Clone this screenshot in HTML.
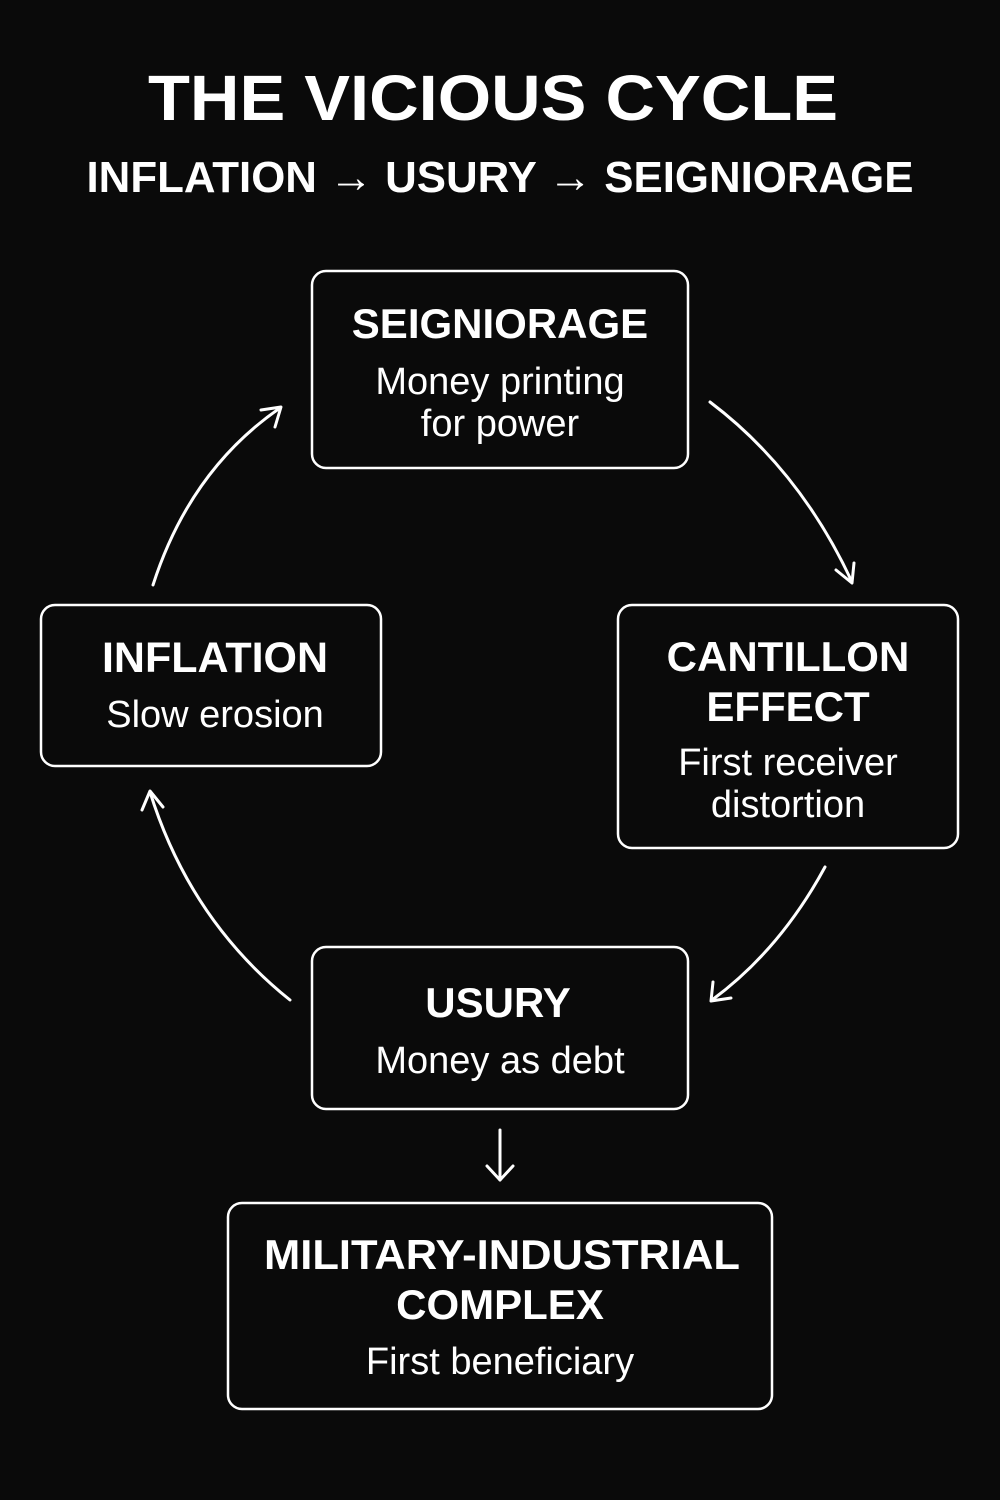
<!DOCTYPE html>
<html><head><meta charset="utf-8"><style>
html,body{margin:0;padding:0;background:#0a0a0a;}
svg{display:block;}
text{font-family:"Liberation Sans",sans-serif;fill:#fff;text-anchor:middle;}
.b{font-weight:bold;}
</style></head><body>
<svg width="1000" height="1500" viewBox="0 0 1000 1500">
<rect width="1000" height="1500" fill="#0a0a0a"/>
<text class="b" x="493" y="120" font-size="64" textLength="690" lengthAdjust="spacingAndGlyphs">THE VICIOUS CYCLE</text>
<text class="b" x="500" y="192" font-size="44" textLength="827" lengthAdjust="spacingAndGlyphs">INFLATION → USURY → SEIGNIORAGE</text>
<g fill="none" stroke="#fff" stroke-width="2.5">
<rect x="312" y="271" width="376" height="197" rx="14"/>
<rect x="41" y="605" width="340" height="161" rx="14"/>
<rect x="618" y="605" width="340" height="243" rx="14"/>
<rect x="312" y="947" width="376" height="162" rx="14"/>
<rect x="228" y="1203" width="544" height="206" rx="14"/>
</g>
<g fill="none" stroke="#fff" stroke-width="3" stroke-linecap="round" stroke-linejoin="round">
<path d="M710 402 Q800 470 852 582"/><path d="M836 570 L852 583 L854 563"/>
<path d="M825 867 Q780 950 712 1000"/><path d="M713 982 L711 1001 L731 998"/>
<path d="M290 1000 Q190 920 150 792"/><path d="M142 810 L150 791 L163 807"/>
<path d="M153 585 Q190 470 280 408"/><path d="M261 410 L281 407 L275 427"/>
<path d="M500 1130 L500 1180"/><path d="M487 1166 L500 1180 L513 1166"/>
</g>
<text class="b" x="500" y="338" font-size="42">SEIGNIORAGE</text>
<text x="500" y="394" font-size="38">Money printing</text>
<text x="500" y="436" font-size="38">for power</text>
<text class="b" x="215" y="672" font-size="43">INFLATION</text>
<text x="215" y="727" font-size="38">Slow erosion</text>
<text class="b" x="788" y="671" font-size="42">CANTILLON</text>
<text class="b" x="788" y="721" font-size="42">EFFECT</text>
<text x="788" y="775" font-size="38">First receiver</text>
<text x="788" y="817" font-size="38">distortion</text>
<text class="b" x="498" y="1017" font-size="42">USURY</text>
<text x="500" y="1073" font-size="38">Money as debt</text>
<text class="b" x="502" y="1269" font-size="42" textLength="476" lengthAdjust="spacingAndGlyphs">MILITARY-INDUSTRIAL</text>
<text class="b" x="500" y="1319" font-size="42">COMPLEX</text>
<text x="500" y="1374" font-size="38">First beneficiary</text>
</svg>
</body></html>
